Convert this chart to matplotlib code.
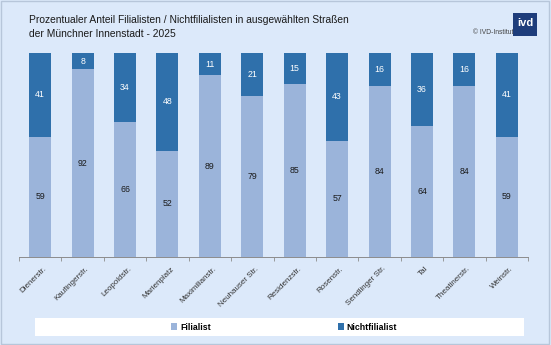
import matplotlib

matplotlib.use("Agg")

import matplotlib.pyplot as plt
from matplotlib.patches import Rectangle

plt.rcParams["font.family"] = ["Liberation Sans", "DejaVu Sans"]

streets = [
    "Dienerstr.", "Kaufingerstr.", "Leopoldstr.", "Marienplatz", "Maximilianstr.",
    "Neuhauser Str.", "Residenzstr.", "Rosenstr.", "Sendlinger Str.", "Tal",
    "Theatinerstr.", "Weinstr.",
]
filialist = [59, 92, 66, 52, 89, 79, 85, 57, 84, 64, 84, 59]
nichtfilialist = [41, 8, 34, 48, 11, 21, 15, 43, 16, 36, 16, 41]

BG = "#dce9fa"
LIGHT = "#9bb4da"
DARK = "#2f70ab"
W, H = 551, 345

fig = plt.figure(figsize=(W / 100, H / 100), dpi=100, facecolor=BG)
fig.patches.append(Rectangle((0.002, 0.002), 0.995, 0.995, transform=fig.transFigure,
                             fill=False, edgecolor="#b7c6da", linewidth=1.0))

ax = fig.add_axes([19 / W, 1 - 257 / H, (528 - 19) / W, (257 - 53) / H])
ax.set_facecolor(BG)

x = list(range(len(streets)))
b1 = ax.bar(x, filialist, width=0.52, color=LIGHT, label="Filialist", zorder=2)
b2 = ax.bar(x, nichtfilialist, width=0.52, bottom=filialist, color=DARK,
            label="Nichtfilialist", zorder=2)

for rect, v in zip(b1, filialist):
    ax.text(rect.get_x() + rect.get_width() / 2, v / 2, str(v), ha="center",
            va="center", fontsize=6.3, color="#1a1a1a", zorder=3)
for rect, f, v in zip(b2, filialist, nichtfilialist):
    ax.text(rect.get_x() + rect.get_width() / 2, f + v / 2, str(v), ha="center",
            va="center", fontsize=6.3, color="white", zorder=3)

ax.set_xlim(-0.5, len(streets) - 0.5)
ax.set_ylim(0, 100)
ax.set_yticks([])
for s in ("top", "right", "left"):
    ax.spines[s].set_visible(False)
ax.spines["bottom"].set_color("#8c8c8c")
ax.spines["bottom"].set_linewidth(0.7)

ax.set_xticks([i - 0.5 for i in range(len(streets) + 1)])
ax.set_xticklabels([])
ax.tick_params(axis="x", length=3, width=0.6, color="#8c8c8c", direction="out")
for i, name in enumerate(streets):
    ax.annotate(name, xy=(i, 0), xytext=(2, -6), textcoords="offset points",
                rotation=45, rotation_mode="anchor", ha="right", va="top",
                fontsize=5.8, color="#333333", annotation_clip=False)

# title and copyright
fig.text(29 / W, 1 - 20 / H, "Prozentualer Anteil Filialisten / Nichtfilialisten in ausgewählten Straßen",
         fontsize=7.35, color="#1a1a1a", va="center", ha="left")
fig.text(29 / W, 1 - 34 / H, "der Münchner Innenstadt - 2025",
         fontsize=7.35, color="#1a1a1a", va="center", ha="left")
fig.text(513 / W, 1 - 33 / H, "© IVD-Institut", fontsize=4.9, color="#444444",
         va="center", ha="right")
fig.patches.append(Rectangle((513 / W, 1 - 36 / H), 24 / W, 23 / H, transform=fig.transFigure,
                             facecolor="#1e3d7b", edgecolor="none"))
fig.text(525 / W, 1 - 23 / H, "ivd", fontsize=8, color="white", fontweight="bold",
         va="center", ha="center")

# legend strip
fig.patches.append(Rectangle((35 / W, 1 - 336 / H), (524 - 35) / W, 18 / H,
                             transform=fig.transFigure, facecolor="white", edgecolor="none"))
fig.legend(handles=[b1, b2], loc="center", bbox_to_anchor=(284 / W, 1 - 327 / H),
           ncol=2, frameon=False, prop={"size": 6.3, "weight": "bold"},
           handlelength=0.7, handleheight=0.7, handletextpad=0.3, columnspacing=14.5)

fig.savefig("out.png", dpi=100, facecolor=BG)
